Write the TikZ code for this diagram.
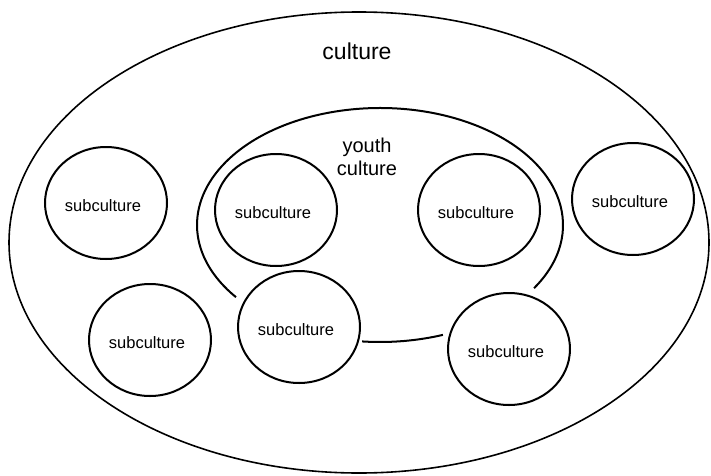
\documentclass[tikz,border=0pt]{standalone}
\usepackage{fontspec}
\setmainfont{Liberation Sans}
\usetikzlibrary{shapes.geometric}
\begin{document}
\begin{tikzpicture}[x=1pt,y=1pt,
  outerline/.style={line width=1.6pt},
  groupline/.style={line width=2pt},
  sub/.style={draw, ellipse, line width=2pt, minimum width=122pt,
    minimum height=112pt, inner sep=0pt},
  subtext/.style={inner sep=0pt, font=\fontsize{16.5}{19}\selectfont},
  label/.style={align=center, inner sep=0pt}
]
\useasboundingbox (0,0) rectangle (711,475);

% outer culture ellipse
\coordinate (cc) at (359,232.5);
\draw[outerline] (cc) ellipse [x radius=350pt, y radius=230.5pt];
\node[label, font=\fontsize{23}{26}\selectfont] (title) at (357,424) {culture};

% youth culture region: open ellipse with a short closing arc at the bottom
\coordinate (yc) at (380,250);
\draw[groupline] (yc) ++(-32.7:183pt and 117pt)
  arc[start angle=-32.7, end angle=218.1, x radius=183pt, y radius=117pt];
\draw[groupline] (yc) ++(264.4:183pt and 117pt)
  arc[start angle=264.4, end angle=290.1, x radius=183pt, y radius=117pt];
\node[label, font=\fontsize{20}{23}\selectfont] (youth) at (367,318) {youth\\culture};

% subcultures: outline plus its caption
\foreach \name/\pos in {s1/{(106,272)}, s2/{(150,135)}, s3/{(276,265)},
                        s4/{(479,265)}, s5/{(633,276)}, s6/{(299,148)},
                        s7/{(509,126)}} {
  \node[sub] (\name) at \pos {};
  \node[subtext] (\name-text) at ([shift={(-3,-3)}]\name.center) {subculture};
}
\end{tikzpicture}
\end{document}
